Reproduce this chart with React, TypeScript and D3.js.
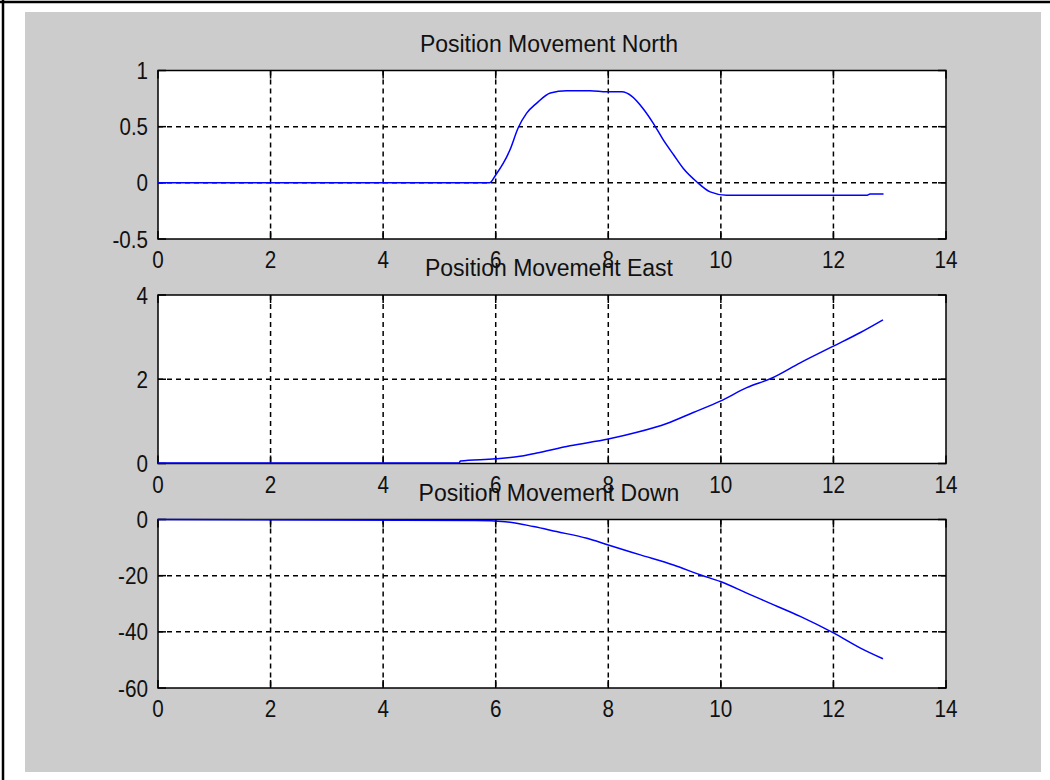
import React from "react";
import * as d3 from "d3";

const northT = [0, 5.89, 6.0, 6.13, 6.25, 6.4, 6.55, 6.73, 6.97, 7.26, 7.68, 7.97, 8.24, 8.42, 8.62, 8.8, 8.98, 9.16, 9.33, 9.57, 9.81, 10.1, 12.6, 12.65, 12.89];
const northV = [0, 0, 0.07, 0.17, 0.29, 0.49, 0.62, 0.71, 0.8, 0.82, 0.82, 0.81, 0.81, 0.77, 0.66, 0.53, 0.38, 0.25, 0.13, 0.01, -0.08, -0.11, -0.11, -0.1, -0.1];

const eastT = [0, 5.35, 5.37, 5.99, 6.43, 6.73, 7.32, 8.0, 8.51, 9.04, 9.51, 9.99, 10.46, 10.91, 11.41, 11.99, 12.48, 12.88];
const eastV = [0.01, 0.01, 0.06, 0.11, 0.17, 0.25, 0.42, 0.58, 0.74, 0.95, 1.21, 1.48, 1.8, 2.03, 2.39, 2.78, 3.11, 3.41];

const downT = [0, 5.63, 6.17, 6.67, 7.08, 7.62, 8.0, 8.57, 9.16, 9.63, 9.99, 10.46, 10.94, 11.41, 12.0, 12.48, 12.88];
const downV = [0, -0.4, -0.8, -2.5, -4.3, -6.7, -9.1, -12.6, -16.2, -19.7, -22.1, -26.2, -30.4, -34.5, -40.4, -45.8, -49.6];

const xTicks = [0, 2, 4, 6, 8, 10, 12, 14];
const northTicks = [-0.5, 0, 0.5, 1];
const eastTicks = [0, 2, 4];
const downTicks = [-60, -40, -20, 0];

const titles = ["Position Movement North", "Position Movement East", "Position Movement Down"];

const panels = [
  { title: titles[0], t: northT, v: northV, ticks: northTicks },
  { title: titles[1], t: eastT, v: eastV, ticks: eastTicks },
  { title: titles[2], t: downT, v: downV, ticks: downTicks },
];

const width = 1050;
const height = 780;
const left = 158;
const right = 946;
const tops = [70.5, 295, 519.5];
const plotH = 168.5;
const tickLen = 8;

const font = "'Liberation Sans', Arial, Helvetica, sans-serif";

// the figure's tick font has narrow digits, so squeeze the labels
const labelWidth = (s: string) =>
  s.split("").reduce((w, c) => w + (c === "." ? 5.5 : c === "-" ? 7 : 11.5), 0);

const TickLabel = (props: { x: number; y: number; anchor: string; dy?: string; text: string }) => (
  <text
    x={props.x}
    y={props.y}
    dy={props.dy}
    textAnchor={props.anchor}
    fontFamily={font}
    fontSize={24}
    fill="#111"
    textLength={labelWidth(props.text)}
    lengthAdjust="spacingAndGlyphs"
  >
    {props.text}
  </text>
);

export default function App() {
  const x = d3.scaleLinear().domain([0, 14]).range([left, right]);

  return (
    <svg
      width={width}
      height={height}
      style={{ position: "absolute", left: 0, top: 0, background: "#fff" }}
    >
      {/* frame */}
      <rect x={25} y={12} width={1016} height={760} fill="#cccccc" />
      <line x1={0} x2={width} y1={2} y2={2} stroke="#000" strokeWidth={2.5} />
      <line x1={3} x2={3} y1={0} y2={height} stroke="#000" strokeWidth={2.5} />

      {panels.map((p, i) => {
        const top = tops[i];
        const bottom = top + plotH;
        const y = d3
          .scaleLinear()
          .domain([p.ticks[0], p.ticks[p.ticks.length - 1]])
          .range([bottom, top]);
        const line = d3
          .line<number>()
          .x((_, j) => x(p.t[j]))
          .y((d) => y(d))
          .curve(d3.curveMonotoneX);
        return (
          <g key={i}>
            <rect x={left} y={top} width={right - left} height={plotH} fill="#fff" />
            {/* grid */}
            {xTicks.slice(1, -1).map((t) => (
              <line
                key={"gx" + t}
                x1={x(t)}
                x2={x(t)}
                y1={top}
                y2={bottom}
                stroke="#000"
                strokeWidth={1.5}
                strokeDasharray="5,4"
              />
            ))}
            {p.ticks.slice(1, -1).map((t) => (
              <line
                key={"gy" + t}
                x1={left}
                x2={right}
                y1={y(t)}
                y2={y(t)}
                stroke="#000"
                strokeWidth={1.5}
                strokeDasharray="5,4"
              />
            ))}
            {/* tick marks */}
            {xTicks.map((t) => (
              <g key={"tx" + t}>
                <line x1={x(t)} x2={x(t)} y1={bottom} y2={bottom - tickLen} stroke="#000" strokeWidth={1.5} />
                <line x1={x(t)} x2={x(t)} y1={top} y2={top + tickLen} stroke="#000" strokeWidth={1.5} />
              </g>
            ))}
            {p.ticks.map((t) => (
              <g key={"ty" + t}>
                <line x1={left} x2={left + tickLen} y1={y(t)} y2={y(t)} stroke="#000" strokeWidth={1.5} />
                <line x1={right} x2={right - tickLen} y1={y(t)} y2={y(t)} stroke="#000" strokeWidth={1.5} />
              </g>
            ))}
            <rect
              x={left}
              y={top}
              width={right - left}
              height={plotH}
              fill="none"
              stroke="#000"
              strokeWidth={1.5}
            />
            {/* data */}
            <path d={line(p.v) ?? ""} fill="none" stroke="#0000ff" strokeWidth={1.5} />
            {/* labels */}
            {p.ticks.map((t) => (
              <TickLabel key={"ly" + t} x={left - 10} y={y(t)} dy="0.36em" anchor="end" text={String(t)} />
            ))}
            {xTicks.map((t) => (
              <TickLabel key={"lx" + t} x={x(t)} y={bottom + 29} anchor="middle" text={String(t)} />
            ))}
            <text
              x={(left + right) / 2 - 3}
              y={top - 19}
              textAnchor="middle"
              fontFamily={font}
              fontSize={23}
              fill="#111"
            >
              {p.title}
            </text>
          </g>
        );
      })}
    </svg>
  );
}
